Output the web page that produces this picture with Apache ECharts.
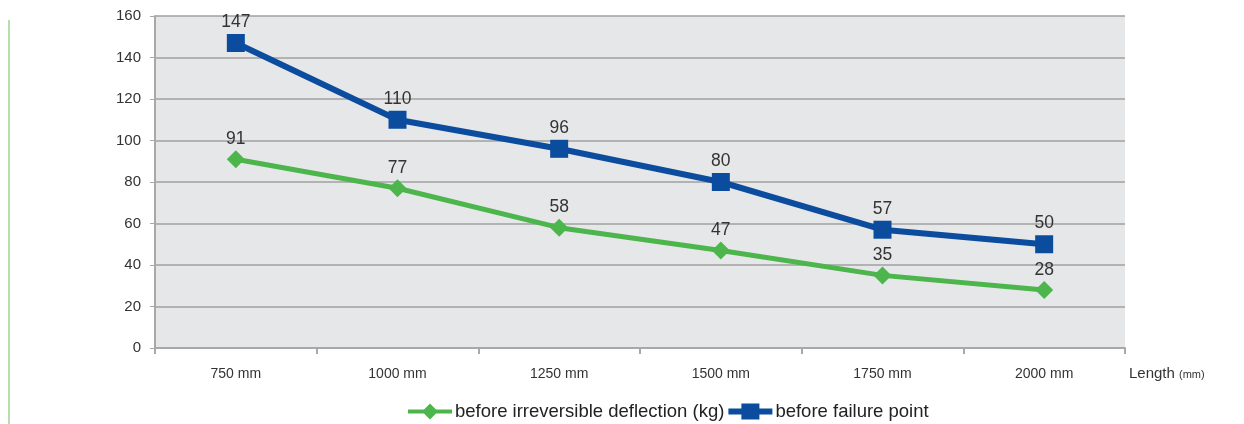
<!DOCTYPE html>
<html><head><meta charset="utf-8">
<script src="https://cdn.jsdelivr.net/npm/echarts@6/dist/echarts.min.js"></script>
<style>html,body{margin:0;padding:0;background:#fff}#c{width:1244px;height:424px}</style>
</head><body><div id="c"></div>
<script>
const categories = ['750 mm','1000 mm','1250 mm','1500 mm','1750 mm','2000 mm'];
const deflection = [91, 77, 58, 47, 35, 28];
const failure = [147, 110, 96, 80, 57, 50];
const seriesNames = ['before irreversible deflection (kg)', 'before failure point'];

const chart = echarts.init(document.getElementById('c'));
chart.setOption({
  animation: false,
  graphic: [
    {type:'rect', shape:{x:8,y:20,width:2,height:404}, style:{fill:'#b5e0ad'}}
  ],
  grid: {left:155, right:119, top:16, bottom:76, show:true, backgroundColor:'#e6e7e8', borderWidth:0},
  legend: {
    left: 403, top: 397, itemGap: 4, itemWidth: 44, itemHeight: 16,
    textStyle: {fontFamily:'Liberation Sans', fontSize:18.5, color:'#222', padding:[0,0,0,-2]},
    data: [
      {name: seriesNames[0], icon: 'path://M0,6 L16,6 L22,0 L28,6 L44,6 L44,10 L28,10 L22,16 L16,10 L0,10 Z'},
      {name: seriesNames[1], icon: 'path://M0,5 L13,5 L13,0 L31,0 L31,5 L44,5 L44,11 L31,11 L31,16 L13,16 L13,11 L0,11 Z'}
    ]
  },
  xAxis: {
    type: 'category', data: categories, boundaryGap: true,
    axisLine: {lineStyle:{color:'#a8a8a8', width:2}},
    axisTick: {show:true, length:6, lineStyle:{color:'#a8a8a8', width:2}},
    axisLabel: {margin:19, fontFamily:'Liberation Sans', fontSize:14, color:'#333'},
    name: 'Length {s|(mm)}', nameLocation:'end', nameGap: 4,
    nameTextStyle: {fontFamily:'Liberation Sans', fontSize:15, color:'#333', verticalAlign:'top', padding:[18,0,0,0],
      rich:{s:{fontSize:11, color:'#333', fontFamily:'Liberation Sans', padding:[3,0,0,0]}}}
  },
  yAxis: {
    type: 'value', min: 0, max: 160, interval: 20,
    axisLine: {show:true, lineStyle:{color:'#a8a8a8', width:2}},
    axisTick: {show:true, length:5, lineStyle:{color:'#a8a8a8'}},
    splitLine: {lineStyle:{color:'#a0a0a0', width:1.5}},
    axisLabel: {margin:14, fontFamily:'Liberation Sans', fontSize:15, color:'#333'}
  },
  series: [
    {
      name: seriesNames[0], type: 'line', data: deflection,
      symbol: 'diamond', symbolSize: 18,
      lineStyle: {color:'#4cb54c', width:5}, itemStyle: {color:'#4cb54c'},
      label: {show:true, position:'top', distance:2, fontFamily:'Liberation Sans', fontSize:17.5, color:'#333'}
    },
    {
      name: seriesNames[1], type: 'line', data: failure,
      symbol: 'rect', symbolSize: 18,
      lineStyle: {color:'#0b4c9e', width:6}, itemStyle: {color:'#0b4c9e'},
      label: {show:true, position:'top', distance:3, fontFamily:'Liberation Sans', fontSize:17.5, color:'#333'}
    }
  ]
});
</script></body></html>
